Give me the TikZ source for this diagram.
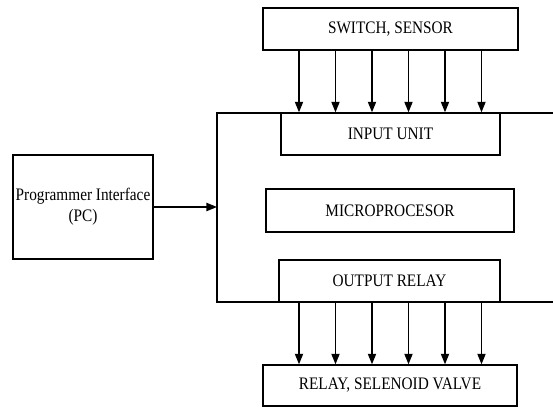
\documentclass[tikz,border=0pt]{standalone}
\usepackage{fontspec}
\setmainfont[FakeStretch=0.87]{Liberation Serif}
\usetikzlibrary{arrows.meta}
\tikzset{box/.style={draw, line width=1.2pt, inner sep=0pt, align=center,
   font=\fontsize{15}{18}\selectfont},
 feed/.style={-{Triangle[length=9pt,width=7pt]}, line width=1.2pt},
 }

\begin{document}
\begin{tikzpicture}[x=0.03cm,y=-0.03cm]
        \useasboundingbox (0,0) rectangle (553,416);
        % controller frame, open to the right
        \draw [line width=1.2pt] (553,113) -- (217,113) -- (217,302) -- (553,302);
        \node [box, fill=white, minimum width=7.65cm, minimum height=1.26cm] (sw) at (390.5,29) {SWITCH, SENSOR};
        \node [box, fill=white, minimum width=6.57cm, minimum height=1.26cm] (inp) at (390.5,134) {INPUT UNIT};
        \node [box, minimum width=7.44cm, minimum height=1.29cm] (mp) at (390,210.5) {MICROPROCESOR};
        \node [box, fill=white, minimum width=6.63cm, minimum height=1.26cm] (out) at (389.5,281) {OUTPUT RELAY};
        \node [box, minimum width=7.62cm, minimum height=1.23cm] (rel) at (390,385.5) {RELAY, SELENOID VALVE};
        \node [box, minimum width=4.2cm, minimum height=3.12cm] (pc) at (83,207) {Programmer Interface\\(PC)};
        \coordinate (frame) at (217,207);
        \draw [feed] (pc) -- (frame);
        \foreach \x in {299,335.5,372,408.5,445,481.5} {
            \draw [feed] (\x,0 |- sw.south) -- (\x,0 |- inp.north);
            \draw [feed] (\x,0 |- out.south) -- (\x,0 |- rel.north);
        }
    \end{tikzpicture}
\end{document}
